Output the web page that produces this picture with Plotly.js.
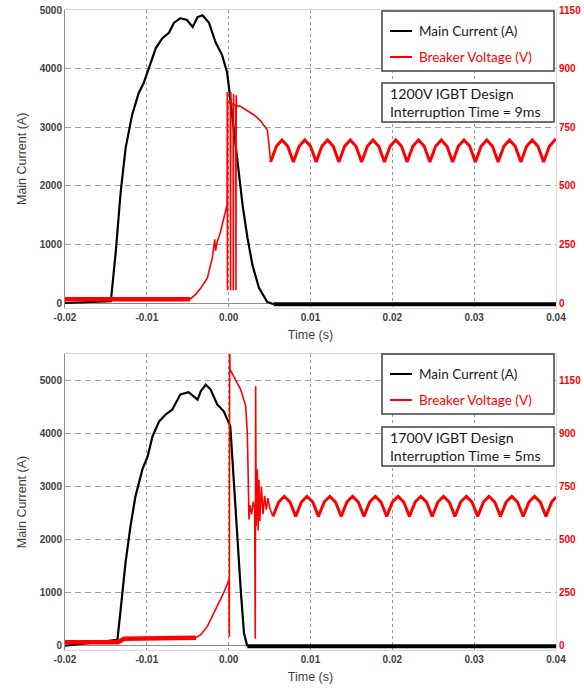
<!DOCTYPE html>
<html><head><meta charset="utf-8">
<script src="https://cdn.plot.ly/plotly-3.0.1.min.js"></script>
<style>html,body{margin:0;padding:0;background:#fff}#chart{width:584px;height:688px}</style>
</head><body><div id="chart"></div>
<script>
// ---------- tick labels ----------
const xTickVals = [-0.02, -0.01, 0, 0.01, 0.02, 0.03, 0.04];
const xTickText = ["-0.02", "-0.01", "0.00", "0.01", "0.02", "0.03", "0.04"];
const yTopTicks = [0, 1000, 2000, 3000, 4000, 5000];
const yBotTicks = [0, 1000, 2000, 3000, 4000, 5000];
const vTickVals = [0, 230, 460, 690, 920, 1150];
const vTickText = ["0", "250", "500", "750", "900", "1150"];

// ---------- TOP (1200V IGBT) ----------
const topCurT = [-0.02, -0.0144, -0.0138, -0.0132, -0.0126, -0.0118, -0.0110, -0.0104, -0.0097, -0.0089, -0.0081, -0.0073, -0.0067, -0.0059, -0.0051, -0.0044, -0.0038, -0.0032, -0.0024, -0.0016, -0.0008, -0.0002, 0.0000, 0.0005, 0.0011, 0.0017, 0.0023, 0.0029, 0.0037, 0.0047, 0.0055];
const topCurA = [0, 30, 870, 1890, 2640, 3210, 3580, 3750, 4030, 4350, 4520, 4610, 4780, 4860, 4830, 4710, 4880, 4910, 4780, 4450, 4230, 3940, 3720, 3090, 2350, 1670, 1110, 650, 260, 20, -20];
const topCurTailT = [0.0055, 0.04];
const topCurTailA = [-20, -20];

const topVBaseT = [-0.02, -0.0047];
const topVBaseV = [15, 15];
const topVTransT = [-0.0047, -0.0040, -0.0034, -0.0026, -0.0020, -0.0017, -0.0016, -0.0014, -0.0010, -0.0006, -0.0002, -0.00017, -0.00015, -0.00013, 0.00020, 0.00023, 0.00026, 0.00029, 0.00055, 0.00057, 0.00060, 0.00063, 0.00087, 0.00089, 0.00092, 0.00095, 0.00147, 0.0022, 0.0031, 0.0039, 0.00432, 0.00473, 0.00493, 0.00513];
const topVTransV = [15, 35, 59, 98, 177, 250, 205, 240, 279, 334, 385, 828, 50, 790, 785, 50, 828, 782, 780, 50, 820, 778, 776, 50, 815, 775, 771, 755, 738, 715, 699, 679, 620, 553];
const topRipT = [0.00513, 0.00583, 0.00652, 0.00722, 0.00791, 0.00861, 0.00930, 0.01000, 0.01069, 0.01139, 0.01208, 0.01278, 0.01347, 0.01417, 0.01486, 0.01556, 0.01625, 0.01695, 0.01764, 0.01834, 0.01903, 0.01973, 0.02042, 0.02112, 0.02181, 0.02251, 0.02320, 0.02390, 0.02459, 0.02529, 0.02598, 0.02668, 0.02737, 0.02807, 0.02876, 0.02946, 0.03015, 0.03085, 0.03154, 0.03224, 0.03293, 0.03363, 0.03432, 0.03502, 0.03571, 0.03641, 0.03710, 0.03780, 0.03849, 0.03919, 0.03988, 0.04000];
const topRipV = [553, 615, 640, 615, 553, 615, 640, 615, 553, 615, 640, 615, 553, 615, 640, 615, 553, 615, 640, 615, 553, 615, 640, 615, 553, 615, 640, 615, 553, 615, 640, 615, 553, 615, 640, 615, 553, 615, 640, 615, 553, 615, 640, 615, 553, 615, 640, 615, 553, 615, 640, 638];

// ---------- BOTTOM (1700V IGBT) ----------
const botCurT = [-0.02, -0.0136, -0.0132, -0.0126, -0.0120, -0.0114, -0.01055, -0.0099, -0.0093, -0.0085, -0.0077, -0.0069, -0.0059, -0.0049, -0.0038, -0.0034, -0.0028, -0.0022, -0.0014, -0.0006, 0.0002, 0.00065, 0.00106, 0.00147, 0.00187, 0.00228];
const botCurA = [0, 110, 680, 1570, 2250, 2810, 3320, 3570, 3950, 4230, 4360, 4450, 4740, 4780, 4640, 4800, 4920, 4830, 4550, 4420, 4140, 3130, 2060, 1060, 240, -10];
const botCurTailT = [0.00228, 0.04];
const botCurTailA = [-10, -10];

const botVBaseT = [-0.02, -0.0135, -0.0128, -0.0040];
const botVBaseV = [15, 15, 30, 35];
const botVTransT = [-0.0040, -0.0034, -0.0026, -0.0018, -0.0012, -0.0006, 0.00004, 0.00008, 0.00012, 0.00016, 0.0006, 0.00147, 0.00208, 0.00228, 0.0024, 0.00248, 0.0026, 0.0028, 0.0030, 0.00318, 0.00325, 0.00330, 0.00336, 0.0035, 0.0036, 0.0037, 0.0038, 0.0040, 0.0042, 0.0044, 0.0046, 0.0048, 0.0050, 0.0052, 0.00541];
const botVTransV = [35, 48, 84, 143, 186, 230, 286, 39, 1320, 1198, 1169, 1111, 1039, 924, 707, 547, 610, 570, 625, 590, 30, 1125, 520, 764, 500, 720, 540, 690, 570, 650, 590, 640, 600, 580, 561];
const botRipT = [0.00541, 0.00611, 0.00680, 0.00750, 0.00819, 0.00889, 0.00958, 0.01028, 0.01097, 0.01167, 0.01236, 0.01306, 0.01375, 0.01445, 0.01514, 0.01584, 0.01653, 0.01723, 0.01792, 0.01862, 0.01931, 0.02001, 0.02070, 0.02140, 0.02209, 0.02279, 0.02348, 0.02418, 0.02487, 0.02557, 0.02626, 0.02696, 0.02765, 0.02835, 0.02904, 0.02974, 0.03043, 0.03113, 0.03182, 0.03252, 0.03321, 0.03391, 0.03460, 0.03530, 0.03599, 0.03669, 0.03738, 0.03808, 0.03877, 0.03947, 0.04000];
const botRipV = [561, 623, 648, 623, 561, 623, 648, 623, 561, 623, 648, 623, 561, 623, 648, 623, 561, 623, 648, 623, 561, 623, 648, 623, 561, 623, 648, 623, 561, 623, 648, 623, 561, 623, 648, 623, 561, 623, 648, 623, 561, 623, 648, 623, 561, 623, 648, 623, 561, 623, 645];

// ---------- text ----------
const legendNames = ["Main Current (A)", "Breaker Voltage (V)"];
const topNote = ["1200V IGBT Design", "Interruption Time = 9ms"];
const botNote = ["1700V IGBT Design", "Interruption Time = 5ms"];

const BLACK = '#000000', RED = '#ff0000';
function tr(x, y, xa, ya, color, w) {
  return {x: x, y: y, xaxis: xa, yaxis: ya, type: 'scatter', mode: 'lines',
          line: {color: color, width: w}, hoverinfo: 'skip', showlegend: false};
}
const data = [
  tr(topCurT, topCurA, 'x', 'y', BLACK, 2.2),
  tr(topCurTailT, topCurTailA, 'x', 'y', BLACK, 4),
  tr(topVBaseT, topVBaseV, 'x', 'y2', RED, 4.5),
  tr(topVTransT, topVTransV, 'x', 'y2', RED, 1.6),
  tr(topRipT, topRipV, 'x', 'y2', RED, 3),
  tr(botCurT, botCurA, 'x2', 'y3', BLACK, 2.2),
  tr(botCurTailT, botCurTailA, 'x2', 'y3', BLACK, 4),
  tr(botVBaseT, botVBaseV, 'x2', 'y4', RED, 4.5),
  tr(botVTransT, botVTransV, 'x2', 'y4', RED, 1.6),
  tr(botRipT, botRipV, 'x2', 'y4', RED, 3)
];

const FONT = 'Liberation Sans, Arial, sans-serif';
const tickFont = {family: FONT, size: 10, color: '#404040', weight: 'bold'};
const redTickFont = {family: FONT, size: 10, color: RED, weight: 'bold'};
const titleFont = {family: FONT, size: 12.5, color: '#404040'};

function xAx(anchor) {
  return {domain: [0, 1], anchor: anchor, range: [-0.02, 0.04], tickmode: 'array',
          tickvals: xTickVals, ticktext: xTickText, ticks: '', tickfont: tickFont,
          showgrid: true, gridcolor: '#9a9a9a', griddash: '3px,3px', gridwidth: 1,
          zeroline: false, showline: true, linecolor: '#d9d9d9', mirror: true,
          title: {text: 'Time (s)', font: titleFont, standoff: 8}};
}
function yAx(anchor, dom, top, ticks) {
  return {domain: dom, anchor: anchor, range: [-80, top], tickmode: 'array', tickvals: ticks,
          ticks: '', tickfont: tickFont, showgrid: true, gridcolor: '#a0a0a0',
          griddash: '6px,4px', zeroline: true, zerolinecolor: '#8c8c8c', zerolinewidth: 1,
          showline: true, linecolor: '#8c8c8c',
          title: {text: 'Main Current (A)', font: titleFont, standoff: 10}};
}
function vAx(over, anchor, top) {
  return {overlaying: over, anchor: anchor, side: 'right', range: [-18.4, top], tickmode: 'array',
          tickvals: vTickVals, ticktext: vTickText, ticks: '', tickfont: redTickFont,
          showgrid: false, zeroline: false, showline: true, linecolor: '#d9d9d9'};
}

// pixel -> paper helpers (plot area 65..556 x, 10..650 y)
const px = v => (v - 65) / 491;
const py = v => (650 - v) / 640;

const shapes = [];
const annotations = [];
const LEGFONT = 'Lato, "Open Sans", sans-serif';
function legendBlock(top, note, noteTop) {
  shapes.push({type: 'rect', xref: 'paper', yref: 'paper', x0: px(382), x1: px(554), y0: py(top + 60), y1: py(top),
               line: {color: '#404040', width: 1.5}, fillcolor: '#ffffff', layer: 'above'});
  shapes.push({type: 'line', xref: 'paper', yref: 'paper', x0: px(390), x1: px(412), y0: py(top + 20), y1: py(top + 20),
               line: {color: BLACK, width: 2}, layer: 'above'});
  shapes.push({type: 'line', xref: 'paper', yref: 'paper', x0: px(390), x1: px(412), y0: py(top + 46), y1: py(top + 46),
               line: {color: RED, width: 2}, layer: 'above'});
  annotations.push({xref: 'paper', yref: 'paper', x: px(417), y: py(top + 20), xanchor: 'left', yanchor: 'middle',
                    text: legendNames[0], showarrow: false, font: {family: LEGFONT, size: 13.5, color: '#1a1a1a'}});
  annotations.push({xref: 'paper', yref: 'paper', x: px(417), y: py(top + 46), xanchor: 'left', yanchor: 'middle',
                    text: legendNames[1], showarrow: false, font: {family: LEGFONT, size: 13.5, color: RED}});
  shapes.push({type: 'rect', xref: 'paper', yref: 'paper', x0: px(382), x1: px(554), y0: py(noteTop + 39), y1: py(noteTop),
               line: {color: '#404040', width: 1.5}, fillcolor: '#ffffff', layer: 'above'});
  annotations.push({xref: 'paper', yref: 'paper', x: px(389), y: py(noteTop + 19.5), xanchor: 'left', yanchor: 'middle',
                    align: 'left', text: note[0] + '<br>' + note[1], showarrow: false, borderpad: 0,
                    font: {family: LEGFONT, size: 14.2, color: '#1a1a1a'}});
}
legendBlock(11, topNote, 83);
legendBlock(354, botNote, 427);

const layout = {
  width: 584, height: 688, margin: {l: 65, r: 28, t: 10, b: 38},
  paper_bgcolor: '#ffffff', plot_bgcolor: '#ffffff', showlegend: false,
  xaxis: xAx('y'),
  yaxis: yAx('x', [py(307.7), 1], 5000, yTopTicks),
  yaxis2: vAx('y', 'x', 1150),
  xaxis2: xAx('y3'),
  yaxis3: yAx('x2', [0, py(354)], 5500, yBotTicks),
  yaxis4: vAx('y3', 'x2', 1265),
  shapes: shapes, annotations: annotations
};

Plotly.newPlot('chart', data, layout, {displayModeBar: false, staticPlot: true});
</script></body></html>
